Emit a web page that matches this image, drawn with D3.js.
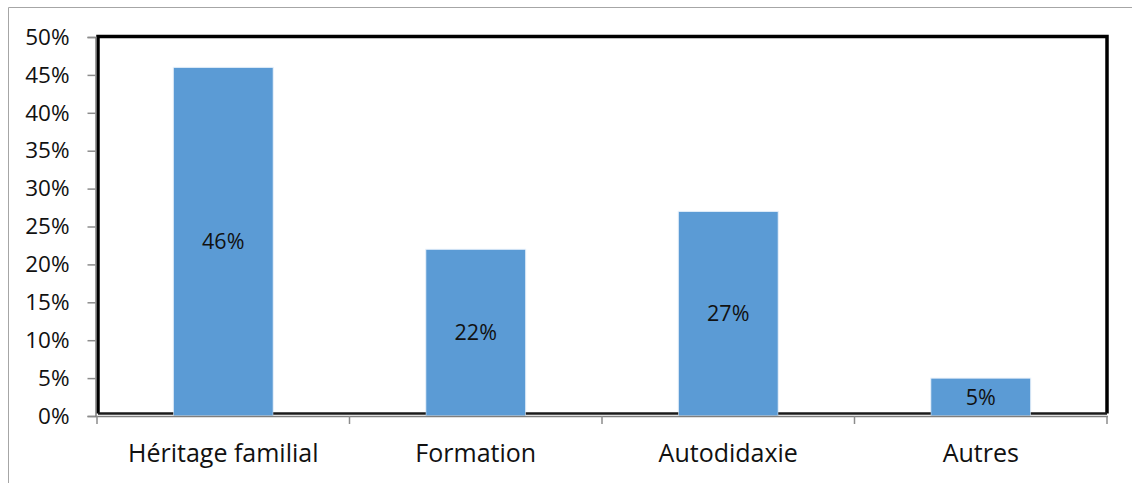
<!DOCTYPE html>
<html>
<head>
<meta charset="utf-8">
<script src="https://cdn.jsdelivr.net/npm/d3@7"></script>
<style>
  html, body { margin: 0; padding: 0; background: #fff; }
  svg { display: block; }
  text { font-family: "Open Sans", sans-serif; fill: #111; }
</style>
</head>
<body>
<svg id="chart" width="1132" height="483"></svg>
<script>
// Origine des compétences (part des répondants)
const categories = ["Héritage familial", "Formation", "Autodidaxie", "Autres"];
const values = [0.46, 0.22, 0.27, 0.05];
const labels = ["46%", "22%", "27%", "5%"];
const yTicks = [0, 0.05, 0.10, 0.15, 0.20, 0.25, 0.30, 0.35, 0.40, 0.45, 0.50];

const svg = d3.select("#chart");
const W = 1132, H = 483;
const plot = { left: 97, right: 1107, top: 37, bottom: 416 };

// outer frame
svg.append("path")
  .attr("d", `M8.5,${H} V7.5 H${W}`)
  .attr("fill", "none")
  .attr("stroke", "#a6a6a6")
  .attr("stroke-width", 1);

const x = d3.scaleBand()
  .domain(categories)
  .range([plot.left, plot.right])
  .paddingInner(0.604)
  .paddingOuter(0.302);

const y = d3.scaleLinear()
  .domain([0, 0.5])
  .range([plot.bottom, plot.top]);

// bars
svg.append("g").selectAll("rect")
  .data(values)
  .join("rect")
  .attr("x", (d, i) => x(categories[i]))
  .attr("width", x.bandwidth())
  .attr("y", d => y(d))
  .attr("height", d => y(0) - y(d))
  .attr("fill", "#5b9bd5")
  .attr("stroke", "#eaf2fb")
  .attr("stroke-width", 1);

// plot-area border (thick black)
svg.append("path")
  .attr("d", `M${plot.left + 1},${plot.bottom - 2.5} V${plot.top - 0.5} H${plot.right} V${plot.bottom - 2.5}`)
  .attr("fill", "none")
  .attr("stroke", "#000")
  .attr("stroke-width", 3.5);
const gaps = [[plot.left + 1, x(categories[0])]];
categories.forEach((c, i) => {
  const x0 = x(c) + x.bandwidth();
  const x1 = i < categories.length - 1 ? x(categories[i + 1]) : plot.right;
  gaps.push([x0, x1]);
});
svg.append("g").selectAll("line")
  .data(gaps)
  .join("line")
  .attr("x1", d => d[0]).attr("x2", d => d[1])
  .attr("y1", plot.bottom - 2.5).attr("y2", plot.bottom - 2.5)
  .attr("stroke", "#1a1a1a").attr("stroke-width", 2.5);

// y axis
const yAxis = d3.axisLeft(y)
  .tickValues(yTicks)
  .tickFormat(d3.format(".0%"))
  .tickSize(8)
  .tickPadding(18);
const gy = svg.append("g")
  .attr("transform", `translate(${plot.left - 1.5},0)`)
  .call(yAxis);
gy.select(".domain").attr("stroke", "#7f7f7f").attr("stroke-width", 1.5);
gy.selectAll(".tick line").attr("stroke", "#8c8c8c").attr("stroke-width", 1.5);
gy.selectAll(".tick text")
  .style("font-family", "'Open Sans', sans-serif")
  .style("font-size", "22.5px")
  .attr("fill", "#111");

// x axis
const gx = svg.append("g")
  .attr("transform", `translate(0,${plot.bottom})`);
gx.append("line")
  .attr("x1", plot.left - 1.5).attr("x2", plot.right + 1)
  .attr("y1", 0.5).attr("y2", 0.5)
  .attr("stroke", "#7f7f7f").attr("stroke-width", 1.5);
const boundaries = d3.range(categories.length + 1)
  .map(i => plot.left + i * (plot.right - plot.left) / categories.length);
gx.selectAll("line.cat")
  .data(boundaries)
  .join("line")
  .attr("class", "cat")
  .attr("x1", d => d).attr("x2", d => d)
  .attr("y1", 0).attr("y2", 8)
  .attr("stroke", "#8c8c8c").attr("stroke-width", 1.5);
gx.selectAll("text")
  .data(categories)
  .join("text")
  .attr("x", d => x(d) + x.bandwidth() / 2)
  .attr("y", 46)
  .attr("text-anchor", "middle")
  .style("font-size", "25px")
  .text(d => d);

// data labels
svg.append("g").selectAll("text")
  .data(values)
  .join("text")
  .attr("x", (d, i) => x(categories[i]) + x.bandwidth() / 2)
  .attr("y", d => (y(d) + y(0)) / 2 + 7.5)
  .attr("text-anchor", "middle")
  .style("font-size", "21.5px")
  .text((d, i) => labels[i]);
</script>
</body>
</html>
